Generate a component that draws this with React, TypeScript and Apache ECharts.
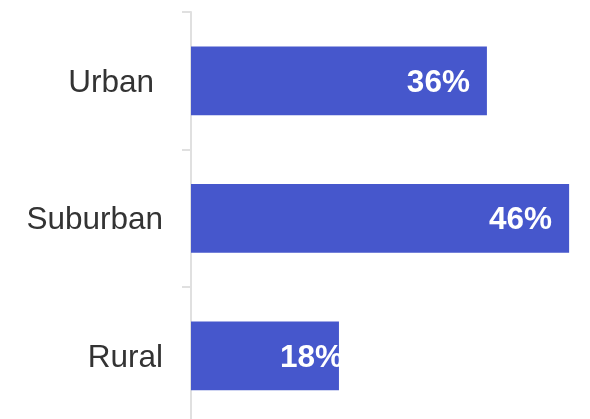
import React, { useEffect, useRef } from "react";
import * as echarts from "echarts";

const categories = ["Urban", "Suburban", "Rural"];
const values = [36, 46, 18];
const labelOffsets = [0, 0, 21];
const labelPadRight = [9, 0, 0];

export default function App() {
  const ref = useRef<HTMLDivElement>(null);
  useEffect(() => {
    if (!ref.current) return;
    const chart = echarts.init(ref.current, null, { renderer: "svg" });
    chart.setOption({
      animation: false,
      grid: {
        left: 191,
        top: 12,
        width: 411,
        height: 412.5,
        outerBoundsMode: "none",
        containLabel: false,
      },
      xAxis: { type: "value", min: 0, max: 50, show: false },
      yAxis: {
        type: "category",
        inverse: true,
        data: categories.map((c, i) => ({
          value: c,
          textStyle: { padding: [0, labelPadRight[i], 0, 0] },
        })),
        axisLine: { show: true, lineStyle: { color: "#e0e0e0", width: 2 } },
        axisTick: { show: true, length: 9, lineStyle: { color: "#e0e0e0", width: 2 } },
        axisLabel: {
          margin: 28,
          fontSize: 31.5,
          color: "#333333",
          fontFamily: "Liberation Sans, Arial, sans-serif",
        },
        splitLine: { show: false },
      },
      series: [
        {
          type: "bar",
          barCategoryGap: "50%",
          itemStyle: { color: "#4657cc" },
          data: values.map((v, i) => ({
            value: v,
            label: { offset: [labelOffsets[i], 0] },
          })),
          label: {
            show: true,
            position: "insideRight",
            distance: 17,
            formatter: "{c}%",
            color: "#ffffff",
            fontWeight: "bold",
            fontSize: 31.5,
            fontFamily: "Liberation Sans, Arial, sans-serif",
          },
        },
      ],
    });
    return () => chart.dispose();
  }, []);
  return (
    <div
      ref={ref}
      style={{ position: "fixed", left: 0, top: 0, width: 590, height: 419 }}
    />
  );
}
